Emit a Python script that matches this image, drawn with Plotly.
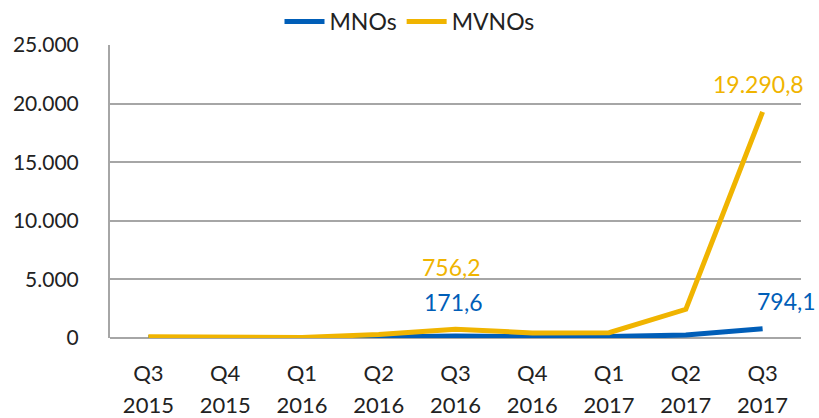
import plotly.graph_objects as go

periods = ["Q3 2015", "Q4 2015", "Q1 2016", "Q2 2016", "Q3 2016",
           "Q4 2016", "Q1 2017", "Q2 2017", "Q3 2017"]
quarter_lbl = ["Q3", "Q4", "Q1", "Q2", "Q3", "Q4", "Q1", "Q2", "Q3"]
year_lbl = ["2015", "2015", "2016", "2016", "2016", "2016", "2017", "2017", "2017"]
mnos = [50, 20, 30, 80, 171.6, 100, 120, 250, 794.1]
mvnos = [100, 30, 50, 300, 756.2, 430, 450, 2450, 19290.8]

BLUE = "#005EB8"
YELLOW = "#F0B400"
FONT = "Lato, 'Noto Sans', sans-serif"
TXT = "#222222"


def fmt(v):
    s = f"{v:,.1f}"
    return s.replace(",", "X").replace(".", ",").replace("X", ".")


fig = go.Figure()
fig.add_trace(go.Scatter(x=periods, y=mnos, mode="lines", name="MNOs",
                         line=dict(color=BLUE, width=5)))
fig.add_trace(go.Scatter(x=periods, y=mvnos, mode="lines", name="MVNOs",
                         xaxis="x2", line=dict(color=YELLOW, width=5)))

labels = [
    (4, mvnos[4], YELLOW, -4, 62),
    (4, mnos[4], BLUE, -2, 34),
    (8, mvnos[8], YELLOW, -4, 28),
    (8, mnos[8], BLUE, 24, 28),
]
for i, v, c, xs, ys in labels:
    fig.add_annotation(x=periods[i], y=v, text=fmt(v), showarrow=False,
                       xshift=xs, yshift=ys,
                       font=dict(color=c, size=23, family=FONT))

common_x = dict(type="category", categoryorder="array", categoryarray=periods,
                range=[-0.5, 8.5], showgrid=False, showline=False, ticks="",
                tickmode="array", tickvals=periods,
                tickfont=dict(size=22, color=TXT, family=FONT))

fig.update_layout(
    width=819, height=418,
    margin=dict(l=110, r=18, t=45, b=80, autoexpand=False),
    paper_bgcolor="white", plot_bgcolor="white",
    separators=",.",
    font=dict(family=FONT, size=20, color=TXT),
    showlegend=True,
    legend=dict(orientation="h", xref="container", x=0.5, xanchor="center",
                yref="container", y=1.0, yanchor="top",
                font=dict(size=23, color=TXT), itemwidth=40,
                bgcolor="rgba(0,0,0,0)"),
    xaxis=dict(common_x, ticktext=quarter_lbl, ticklabelstandoff=20),
    xaxis2=dict(common_x, ticktext=year_lbl, overlaying="x", anchor="y",
                side="bottom", ticklabelstandoff=52),
    yaxis=dict(range=[0, 25000], dtick=5000, tickformat=",d",
               showgrid=True, gridcolor="#A6A6A6", gridwidth=2,
               zeroline=True, zerolinecolor="#A6A6A6", zerolinewidth=2,
               showline=True, linecolor="#A6A6A6", linewidth=2,
               ticks="", ticklabelstandoff=25, tickfont=dict(size=21)),
)

fig.write_html("out.html", config={"displayModeBar": False},
               post_script="document.body.style.margin='0';document.body.style.overflow='hidden';")
